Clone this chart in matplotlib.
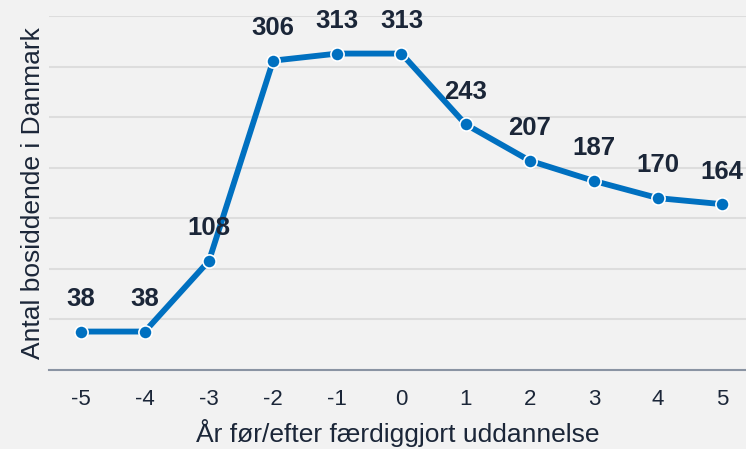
import numpy as np
import matplotlib
matplotlib.use('Agg')
import matplotlib.pyplot as plt

plt.rcParams['font.family'] = ['Liberation Sans', 'DejaVu Sans']

# data
years = [-5, -4, -3, -2, -1, 0, 1, 2, 3, 4, 5]
counts = [38, 38, 108, 306, 313, 313, 243, 207, 187, 170, 164]

bg = '#f2f2f2'
blue = '#0070c0'
dark = '#1b2638'

fig = plt.figure(figsize=(7.46, 4.49), dpi=100, facecolor=bg)
ax = fig.add_axes([0.066, 0.176, 0.934, 0.788], facecolor=bg)

ax.plot(years, counts, color=blue, lw=4.2, marker='o', ms=9.5,
        markerfacecolor=blue, markeredgecolor='white', markeredgewidth=1.2, zorder=3)

for x, y in zip(years, counts):
    ax.annotate(str(y), (x, y), xytext=(0, 23.5), textcoords='offset points',
                ha='center', va='center', fontsize=18.5, fontweight='bold',
                color=dark, annotation_clip=False, zorder=4)

ax.set_xlim(-5.49, 5.37)
ax.set_ylim(0, 350)
ax.set_yticks(np.arange(50, 351, 50))
ax.yaxis.grid(True, color='#dddddd', lw=1.5)
ax.set_axisbelow(True)
ax.tick_params(axis='y', length=0, labelleft=False)
ax.set_xticks(years)
ax.set_xticklabels([str(v) for v in years])
ax.tick_params(axis='x', length=0, pad=14, labelsize=16, labelcolor=dark)

for s in ['top', 'right', 'left']:
    ax.spines[s].set_visible(False)
ax.spines['bottom'].set_color('#8a94a3')
ax.spines['bottom'].set_linewidth(1.5)

ax.set_xlabel('År før/efter færdiggjort uddannelse', fontsize=19, color=dark, labelpad=6)
ax.set_ylabel('Antal bosiddende i Danmark', fontsize=19, color=dark, labelpad=3)

fig.savefig('out.png', dpi=100, facecolor=bg)
